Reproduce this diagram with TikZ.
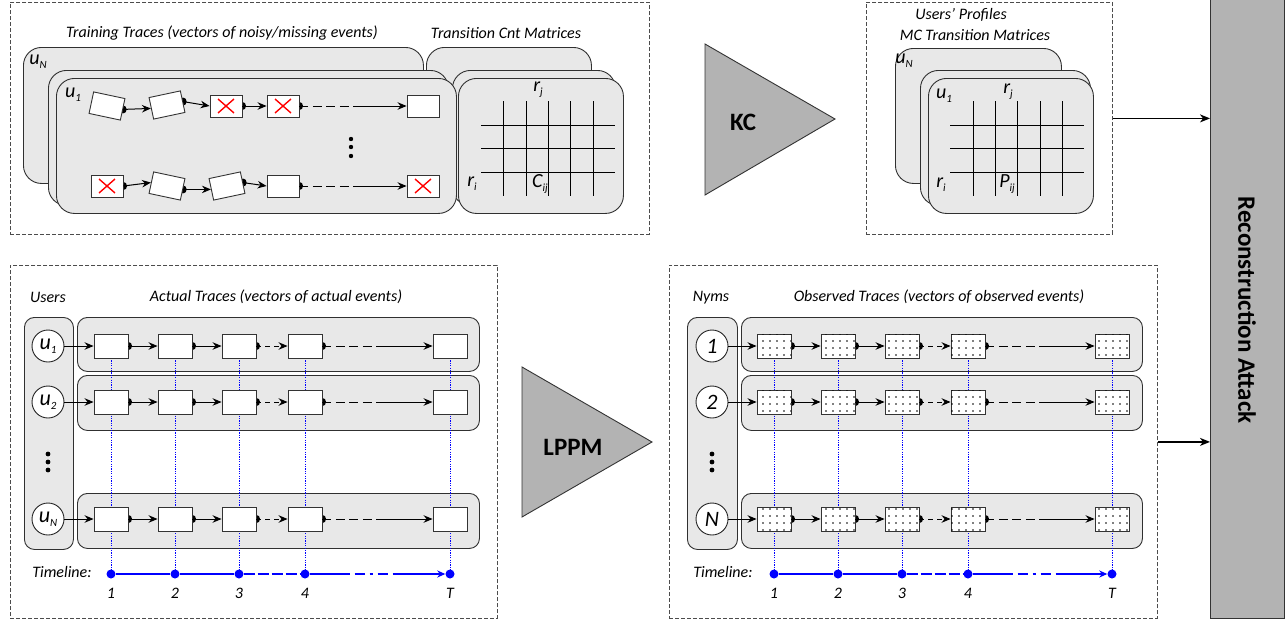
\documentclass[tikz,border=0pt]{standalone}
\usepackage{fontspec}
\setmainfont{Carlito}
\usetikzlibrary{arrows.meta,patterns.meta}
\pgfdeclarelayer{bg}
\pgfdeclarelayer{mid}
\pgfsetlayers{bg,mid,main}
\definecolor{cardfill}{HTML}{E8E8E8}
\definecolor{cardline}{HTML}{303030}
\definecolor{grayfill}{HTML}{B3B3B3}
\definecolor{tblue}{HTML}{0000FF}
\newcommand\fsz[1]{\fontsize{#1}{#1}\selectfont}
\newcommand\sbs[2]{#1\raisebox{-4pt}{\fsz{11}#2}}
\newcommand\rbox[6]{\node[#1, anchor=north west, inner sep=0pt, minimum width={#5pt-#3pt}, minimum height={#6pt-#4pt}] (#2) at (#3,#4) {};}
\newcommand\redx[1]{\draw[xmark] ([shift={(-8pt,-7pt)}]#1.center) -- ([shift={(8pt,7pt)}]#1.center) ([shift={(-8pt,7pt)}]#1.center) -- ([shift={(8pt,-7pt)}]#1.center);}
\newcommand\dotat[1]{\begin{pgfonlayer}{mid}\fill[black] (#1.east) ellipse [x radius=3.6pt, y radius=4pt];\end{pgfonlayer}}
\newcommand\evlink[3][]{\dotat{#2}\draw[arr,#1] (#2.east) -- (#3.west);}
\tikzset{
 panel/.style={draw=black!70, line width=0.8pt, dash pattern=on 4pt off 2pt},
 card/.style={draw=cardline, fill=cardfill, line width=0.9pt, rounded corners=#1},
 card/.default=10pt,
 ev/.style={draw=black!80, fill=white, line width=0.9pt, minimum width=32pt, minimum height=22pt, inner sep=0pt},
 bev/.style={ev, minimum width=34pt, minimum height=24pt},
 obs/.style={bev, postaction={pattern={Dots[distance=7pt,radius=0.8pt]}}},
 xmark/.style={red, line width=1.4pt},
 arr/.style={black, line width=1pt, -{Stealth[length=9pt,width=7.5pt,inset=3pt]}},
 dash1/.style={dash pattern=on 5pt off 4pt},
 dash2/.style={dash pattern=on 9pt off 4.5pt on 9pt off 4.5pt on 9pt off 4.5pt on 9pt off 4.5pt on 300pt},
 ucirc/.style={circle, draw=black!85, fill=white, line width=0.9pt, minimum size=32pt, inner sep=0pt, font=\fsz{22}\itshape},
 lbl/.style={inner sep=0pt, font=\fsz{16}\itshape},
 clbl/.style={inner sep=0pt, font=\fsz{20}\itshape},
 mgrid/.style={black, line width=1pt},
 tri/.style={draw=black!80, fill=grayfill, line width=0.9pt},
 bigtxt/.style={inner sep=0pt, font=\fsz{25}\bfseries},
 tdot/.style={circle, fill=tblue, minimum size=9pt, inner sep=0pt},
 tl/.style={tblue, line width=1.6pt},
 tldash/.style={dash pattern=on 11pt off 3pt},
 tlmix/.style={dash pattern=on 40pt off 5pt on 10pt off 5pt on 3pt off 5pt on 10pt off 5pt on 300pt, -{Stealth[length=8pt,width=7pt,inset=2.5pt]}},
 vdot/.style={tblue, line width=0.6pt, dash pattern=on 1.2pt off 1.2pt},
 bigarr/.style={black, line width=1.4pt, -{Stealth[length=10pt,width=8pt,inset=3pt]}},
}
\begin{document}
\begin{tikzpicture}[x=1pt,y=-1pt]
\useasboundingbox (0,0) rectangle (1286,621);
% ---------- panels
\rbox{panel}{P1}{10}{2}{649}{234}
\rbox{panel}{P2}{866}{2}{1112}{234}
\rbox{panel}{P3}{10}{265}{497}{618}
\rbox{panel}{P4}{669}{265}{1157}{618}
% ---------- top-left
\node[lbl] (ttl1) at (222,33) {Training Traces (vectors of noisy/missing events)};
\node[lbl] (ttl2) at (506,33) {Transition Cnt Matrices};
\begin{pgfonlayer}{bg}
\rbox{card=18pt}{tcN}{23}{47}{423}{183}
\rbox{card=18pt}{mcN}{426}{47}{591}{183}
\rbox{card=18pt}{tc2}{48}{70}{448}{205}
\rbox{card=18pt}{mc2}{452}{70}{615}{205}
\rbox{card=18pt}{tc1}{56}{78}{456}{213}
\rbox{card=18pt}{mc1}{458}{78}{623}{213}
\end{pgfonlayer}
\node[clbl] (luN) at (38,62) {\sbs{u}{N}};
\node[clbl] (lu1) at (73,95) {\sbs{u}{1}};
\node[ev, rotate=-12] (a1) at (107,106) {};
\node[ev, rotate=12] (a2) at (167,105) {};
\node[ev] (a3) at (226,106) {}; \redx{a3}
\node[ev] (a4) at (283,106) {}; \redx{a4}
\node[ev] (a5) at (423,106) {};
\evlink{a1}{a2} \evlink{a2}{a3} \evlink{a3}{a4} \evlink[dash2]{a4}{a5}
\node[ev] (c1) at (107,186) {}; \redx{c1}
\node[ev, rotate=-12] (c2) at (167,186) {};
\node[ev, rotate=12] (c3) at (227,186) {};
\node[ev] (c4) at (283,186) {};
\node[ev] (c5) at (423,186) {}; \redx{c5}
\evlink{c1}{c2} \evlink{c2}{c3} \evlink{c3}{c4} \evlink[dash2]{c4}{c5}
\foreach \yy in {139,147,156} \fill (351,\yy) circle (2.2pt);
\foreach \xx in {503,526,548,570,593} \draw[mgrid] (\xx,101) -- (\xx,196);
\foreach \yy in {125,148,172} \draw[mgrid] (481,\yy) -- (615,\yy);
\node[clbl] (crj) at (538,90) {\sbs{r}{j}};
\node[clbl] (cri) at (472,184) {\sbs{r}{i}};
\node[clbl] (ccij) at (540,184) {\sbs{C}{ij}};
% ---------- top-right
\node[lbl] (ttl3) at (961,15) {Users’ Profiles};
\node[lbl] (ttl4) at (975,35) {MC Transition Matrices};
\begin{pgfonlayer}{bg}
\rbox{card=18pt}{pcN}{895}{48}{1061}{183}
\rbox{card=18pt}{pc2}{920}{70}{1090}{205}
\rbox{card=18pt}{pc1}{928}{78}{1093}{213}
\end{pgfonlayer}
\node[clbl] (puN) at (904,61) {\sbs{u}{N}};
\node[clbl] (pu1) at (944,96) {\sbs{u}{1}};
\foreach \xx in {973,995,1017,1040,1062} \draw[mgrid] (\xx,101) -- (\xx,196);
\foreach \yy in {125,148,172} \draw[mgrid] (950,\yy) -- (1084,\yy);
\node[clbl] (prj) at (1008,92) {\sbs{r}{j}};
\node[clbl] (pri) at (941,185) {\sbs{r}{i}};
\node[clbl] (ppij) at (1007,184) {\sbs{P}{ij}};
% ---------- triangles and bar
\draw[tri] (705,44) -- (705,195) -- (835,119) -- cycle;
\node[bigtxt] (kc) at (743,122) {KC};
\draw[tri] (522,367) -- (522,517) -- (652,442) -- cycle;
\node[bigtxt] (lppm) at (573,447) {LPPM};
\rbox{tri}{RA}{1210}{-2}{1284}{618}
\node[bigtxt, rotate=-90] (ratx) at (1247,310) {Reconstruction Attack};
\draw[bigarr] (P2.east) -- (P2.east -| RA.west);
\draw[bigarr] (P4.east) -- (P4.east -| RA.west);
% ---------- bottom-left
\node[lbl] (usr) at (48,297) {Users};
\node[lbl] (act) at (276,297) {Actual Traces (vectors of actual events)};
\begin{pgfonlayer}{bg}
\rbox{card=10pt}{colL}{24}{317}{73}{549}
\rbox{card=10pt}{rowL1}{77}{317}{479}{371}
\rbox{card=10pt}{rowL2}{77}{375}{479}{430}
\rbox{card=10pt}{rowL3}{77}{493}{479}{548}
\end{pgfonlayer}
\node[ucirc] (uL1) at (48,346) {\sbs{u}{1}};
\node[ucirc] (uL2) at (48,402) {\sbs{u}{2}};
\node[ucirc] (uL3) at (48,519) {\sbs{u}{N}};
\foreach \yy in {454,462,470} \fill (48,\yy) circle (2.4pt);
\foreach \r/\yy in {1/346,2/402,3/519}{
  \foreach \i/\xx in {1/111,2/175,3/239,4/305,5/450} \node[bev] (L\r\i) at (\xx,\yy) {};
  \draw[arr] (uL\r.east) -- (L\r1.west);
  \evlink{L\r1}{L\r2} \evlink{L\r2}{L\r3} \evlink[dash1]{L\r3}{L\r4} \evlink[dash2]{L\r4}{L\r5}
}
\foreach \i/\xx in {1/111,2/175,3/239,4/305,5/450} \node[tdot] (TL\i) at (\xx,574) {};
\begin{pgfonlayer}{mid}
\foreach \i in {1,...,5} \draw[vdot] (L1\i.center) -- (TL\i.center);
\end{pgfonlayer}
\draw[tl] (TL1) -- (TL2);
\draw[tl] (TL2) -- (TL3);
\draw[tl, tldash] (TL3) -- (TL4);
\draw[tl, tlmix] (TL4) -- (TL5);
\node[lbl] (tlL) at (62,572) {Timeline:};
\foreach \i/\xx/\t in {1/111/1,2/175/2,3/239/3,4/305/4,5/450/T} \node[lbl] (nL\i) at (\xx,593) {\t};
% ---------- bottom-right
\node[lbl] (nym) at (711,298) {Nyms};
\node[lbl] (obt) at (939,297) {Observed Traces (vectors of observed events)};
\begin{pgfonlayer}{bg}
\rbox{card=10pt}{colR}{687}{317}{737}{549}
\rbox{card=10pt}{rowR1}{741}{317}{1142}{371}
\rbox{card=10pt}{rowR2}{741}{375}{1142}{430}
\rbox{card=10pt}{rowR3}{741}{493}{1142}{548}
\end{pgfonlayer}
\node[ucirc] (uR1) at (712,346) {1};
\node[ucirc] (uR2) at (712,402) {2};
\node[ucirc] (uR3) at (712,519) {N};
\foreach \yy in {454,462,470} \fill (712,\yy) circle (2.4pt);
\foreach \r/\yy in {1/346,2/402,3/519}{
  \foreach \i/\xx in {1/774,2/838,3/902,4/968,5/1112} \node[obs] (R\r\i) at (\xx,\yy) {};
  \draw[arr] (uR\r.east) -- (R\r1.west);
  \evlink{R\r1}{R\r2} \evlink{R\r2}{R\r3} \evlink[dash1]{R\r3}{R\r4} \evlink[dash2]{R\r4}{R\r5}
}
\foreach \i/\xx in {1/774,2/838,3/902,4/968,5/1112} \node[tdot] (TR\i) at (\xx,574) {};
\begin{pgfonlayer}{mid}
\foreach \i in {1,...,5} \draw[vdot] (R1\i.center) -- (TR\i.center);
\end{pgfonlayer}
\draw[tl] (TR1) -- (TR2);
\draw[tl] (TR2) -- (TR3);
\draw[tl, tldash] (TR3) -- (TR4);
\draw[tl, tlmix] (TR4) -- (TR5);
\node[lbl] (tlR) at (723,572) {Timeline:};
\foreach \i/\xx/\t in {1/774/1,2/838/2,3/902/3,4/968/4,5/1112/T} \node[lbl] (nR\i) at (\xx,593) {\t};
\end{tikzpicture}
\end{document}
